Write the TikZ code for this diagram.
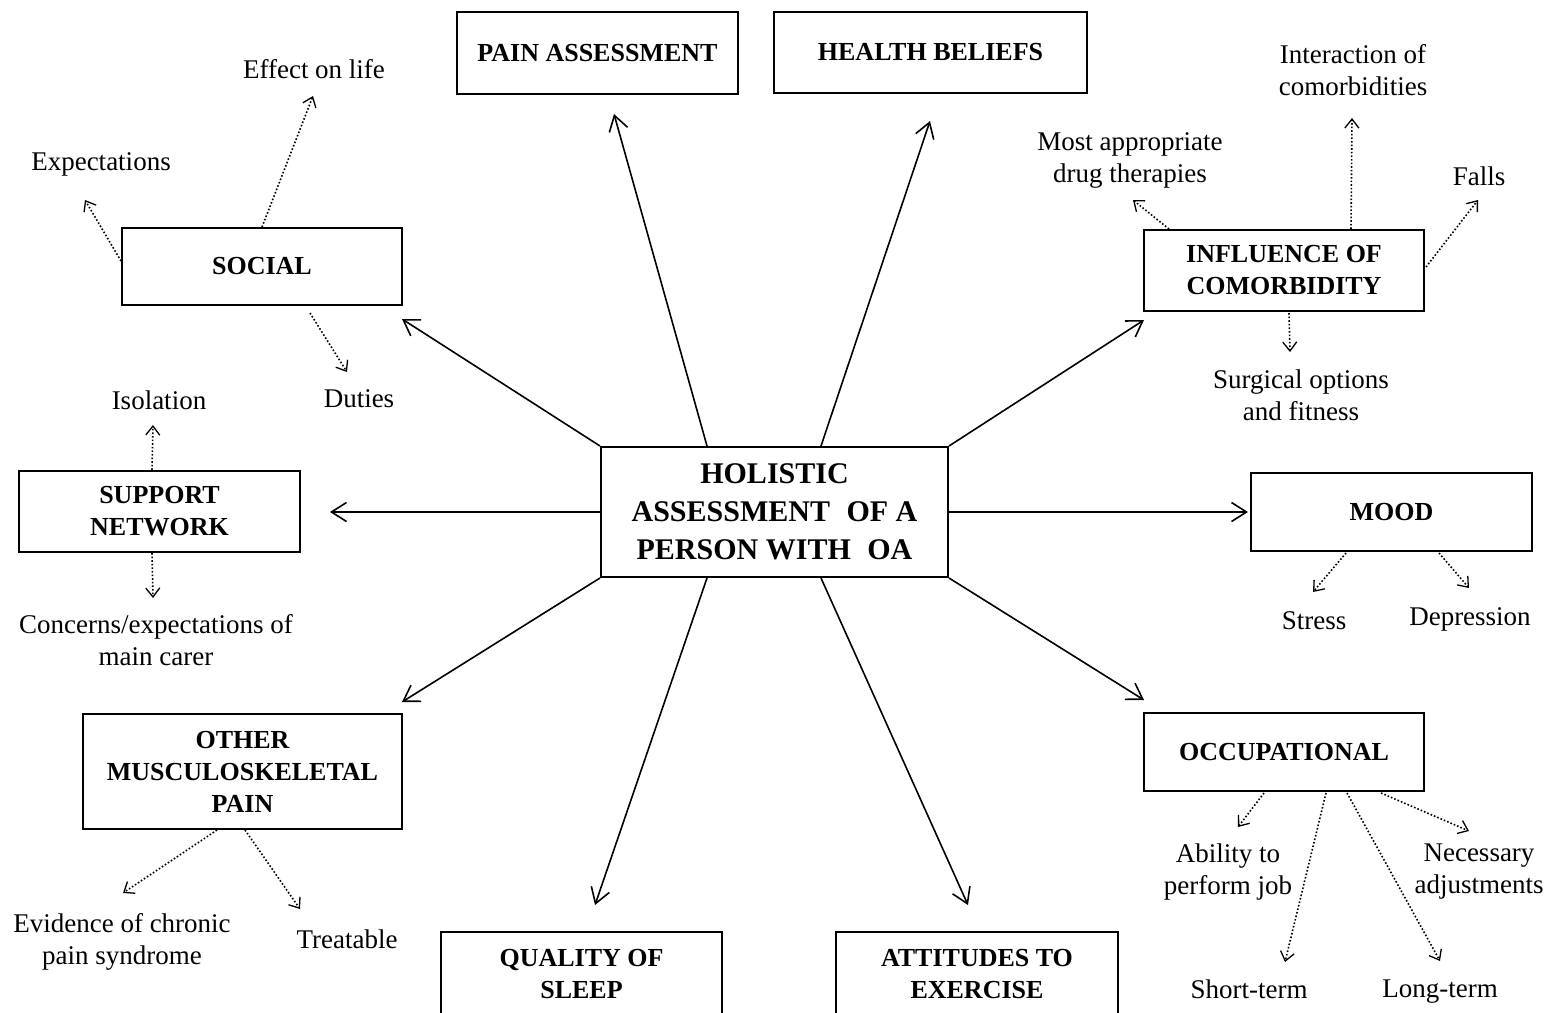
\documentclass[tikz,border=0pt]{standalone}
\usepackage{fontspec}
\setmainfont{Liberation Serif}
\usetikzlibrary{arrows.meta,calc}
\begin{document}
\begin{tikzpicture}[x=0.5pt,y=-0.5pt,
  box/.style={draw,line width=1pt,font=\bfseries\fontsize{13}{16}\selectfont,align=center,inner sep=0pt},
  lbl/.style={font=\fontsize{13.5}{16}\selectfont,align=center,inner sep=0pt},
  mainarrow/.style={line width=0.8pt,-{Straight Barb[length=7.5pt,width=9.5pt]}},
  subarrow/.style={line width=0.8pt,densely dotted,-{Straight Barb[length=4.5pt,width=7pt,line width=0.65pt]}}]
\useasboundingbox (0,0) rectangle (1549,1013);
\clip (0,0) rectangle (1549,1013);
\fill[white] (0,0) rectangle (1549,1013);

% boxes
\node[box,minimum width=140.5pt,minimum height=41pt] (pain) at (597.5,53) {PAIN ASSESSMENT};
\node[box,minimum width=156.5pt,minimum height=40.5pt] (health) at (930.5,52.5) {HEALTH BELIEFS};
\node[box,minimum width=140pt,minimum height=38.5pt] (social) at (262,266.5) {SOCIAL};
\node[box,minimum width=140pt,minimum height=40.5pt] (infl) at (1284,270.5) {INFLUENCE OF\\COMORBIDITY};
\node[box,minimum width=140.5pt,minimum height=40.5pt] (support) at (159.5,511.5) {SUPPORT\\NETWORK};
\node[box,minimum width=173.5pt,minimum height=65pt,font=\bfseries\fontsize{15}{19}\selectfont] (central) at (774.5,512) {HOLISTIC\\ASSESSMENT\hspace{0.3em} OF A\\PERSON WITH\hspace{0.3em} OA};
\node[box,minimum width=140.5pt,minimum height=39pt] (mood) at (1391.5,512) {MOOD};
\node[box,minimum width=159.5pt,minimum height=57.5pt] (other) at (242.5,771.5) {OTHER\\MUSCULOSKELETAL\\PAIN};
\node[box,minimum width=140pt,minimum height=39pt] (occ) at (1284,752) {OCCUPATIONAL};
\node[box,minimum width=140.5pt,minimum height=42pt] (quality) at (581.5,974) {QUALITY OF\\SLEEP};
\node[box,minimum width=141pt,minimum height=42pt] (attitudes) at (977,974) {ATTITUDES TO\\EXERCISE};

% labels
\node[lbl] (effect) at (314,69) {Effect on life};
\node[lbl] (expect) at (101,164) {Expectations};
\node[lbl] (duties) at (359,399) {Duties};
\node[lbl] (isol) at (159,400) {Isolation};
\node[lbl] (concerns) at (156,640) {Concerns/expectations of\\main carer};
\node[lbl] (evidence) at (122,942) {Evidence of chronic\\pain syndrome};
\node[lbl] (treat) at (347,939) {Treatable};
\node[lbl] (mostapp) at (1130,160) {Most appropriate\\drug therapies};
\node[lbl] (interact) at (1353,70) {Interaction of\\comorbidities};
\node[lbl] (falls) at (1479,176) {Falls};
\node[lbl] (surg) at (1301,395) {Surgical options\\and fitness};
\node[lbl] (stress) at (1314,621) {Stress};
\node[lbl] (depr) at (1470,619) {Depression};
\node[lbl] (ability) at (1228,872) {Ability to\\perform job};
\node[lbl] (necess) at (1479,872) {Necessary\\adjustments};
\node[lbl] (short) at (1249,989) {Short-term};
\node[lbl] (long) at (1440,992) {Long-term};

% arrow end coordinates (main)
\coordinate (tSocial) at (402,319);
\coordinate (tPain) at (614,114);
\coordinate (tHealth) at (930,121);
\coordinate (tInfl) at (1144,320);
\coordinate (tMood) at (1248,512);
\coordinate (tOcc) at (1144,700);
\coordinate (tAtt) at (968,905);
\coordinate (tQual) at (595,905);
\coordinate (tOther) at (402,702);
\coordinate (tSupport) at (330,512);

\draw[mainarrow] (central.north west) -- (tSocial);
\draw[mainarrow] ($(central.north west)+(107,0)$) -- (tPain);
\draw[mainarrow] ($(central.north west)+(221,0)$) -- (tHealth);
\draw[mainarrow] (central.north east) -- (tInfl);
\draw[mainarrow] (central.east) -- (tMood);
\draw[mainarrow] (central.south east) -- (tOcc);
\draw[mainarrow] ($(central.south west)+(221,0)$) -- (tAtt);
\draw[mainarrow] ($(central.south west)+(107,0)$) -- (tQual);
\draw[mainarrow] (central.south west) -- (tOther);
\draw[mainarrow] (central.west) -- (tSupport);

% dotted arrow end coordinates
\coordinate (dEffect) at (313,96);
\coordinate (dExpect) at (85,200);
\coordinate (dDuties) at (347,372);
\coordinate (dIsol) at (153,425);
\coordinate (dConc) at (153,598);
\coordinate (dEvid) at (123,893);
\coordinate (dTreat) at (300,909);
\coordinate (dMost) at (1133,200);
\coordinate (dInter) at (1352,118);
\coordinate (dFalls) at (1478,200);
\coordinate (dSurg) at (1290,352);
\coordinate (dStress) at (1313,592);
\coordinate (dDepr) at (1469,588);
\coordinate (dAbil) at (1238,827);
\coordinate (dShort) at (1285,962);
\coordinate (dLong) at (1440,961);
\coordinate (dNec) at (1469,831);

\draw[subarrow] (social.north) -- (dEffect);
\draw[subarrow] ($(social.north west)+(0,34)$) -- (dExpect);
\draw[subarrow] ($(social.south west)+(189,7)$) -- (dDuties);
\draw[subarrow] ($(support.north west)+(134,0)$) -- (dIsol);
\draw[subarrow] ($(support.south west)+(134,0)$) -- (dConc);
\draw[subarrow] ($(other.south west)+(135,0)$) -- (dEvid);
\draw[subarrow] ($(other.south west)+(163,0)$) -- (dTreat);
\draw[subarrow] ($(infl.north west)+(26,0)$) -- (dMost);
\draw[subarrow] ($(infl.north west)+(208,0)$) -- (dInter);
\draw[subarrow] ($(infl.north east)+(1,38)$) -- (dFalls);
\draw[subarrow] ($(infl.south west)+(146,1)$) -- (dSurg);
\draw[subarrow] ($(mood.south west)+(96,1)$) -- (dStress);
\draw[subarrow] ($(mood.south west)+(189,1)$) -- (dDepr);
\draw[subarrow] ($(occ.south west)+(121,1)$) -- (dAbil);
\draw[subarrow] ($(occ.south west)+(183,1)$) -- (dShort);
\draw[subarrow] ($(occ.south west)+(204,1)$) -- (dLong);
\draw[subarrow] ($(occ.south west)+(238,1)$) -- (dNec);
\end{tikzpicture}
\end{document}
